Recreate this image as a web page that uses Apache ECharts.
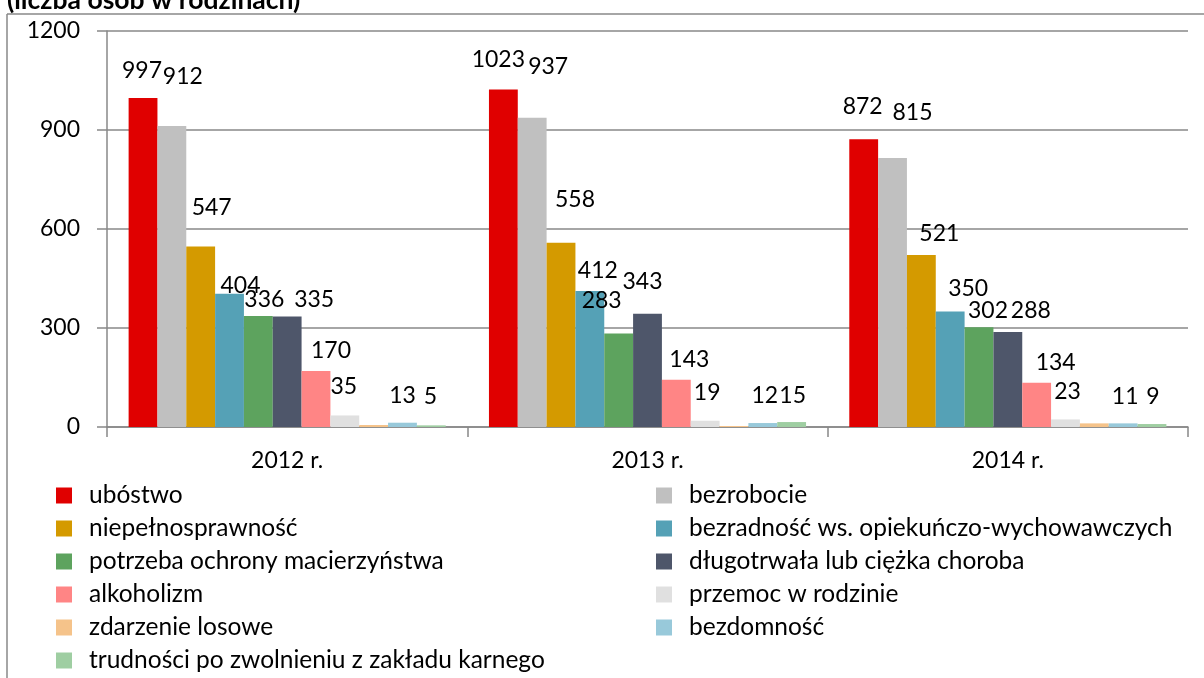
<!DOCTYPE html>
<html><head><meta charset="utf-8">
<script src="https://cdn.jsdelivr.net/npm/echarts@6/dist/echarts.min.js"></script>
<style>html,body{margin:0;padding:0;background:#fff}#c{width:1204px;height:678px}</style>
</head><body><div id="c"></div>
<script>
const categories = ['2012 r.', '2013 r.', '2014 r.'];
const seriesNames = ['ubóstwo','bezrobocie','niepełnosprawność','bezradność ws. opiekuńczo-wychowawczych','potrzeba ochrony macierzyństwa','długotrwała lub ciężka choroba','alkoholizm','przemoc w rodzinie','zdarzenie losowe','bezdomność','trudności po zwolnieniu z zakładu karnego'];
const ubostwo = [997, 1023, 872];
const bezrobocie = [912, 937, 815];
const niepelnosprawnosc = [547, 558, 521];
const bezradnosc = [404, 412, 350];
const macierzynstwo = [336, 283, 302];
const choroba = [335, 343, 288];
const alkoholizm = [170, 143, 134];
const przemoc = [35, 19, 23];
const zdarzenie = [6, 3, 11];
const bezdomnosc = [13, 12, 11];
const trudnosci = [5, 15, 9];
const yTicks = [0, 300, 600, 900, 1200];

// ---- styling ----
const values = [ubostwo,bezrobocie,niepelnosprawnosc,bezradnosc,macierzynstwo,choroba,alkoholizm,przemoc,zdarzenie,bezdomnosc,trudnosci];
const colors = ['#E00000','#C0C0C0','#D49A00','#55A1B6','#5DA35E','#4E566A','#FF8585','#E0E0E0','#F5C38A','#98C9DA','#9FCEA2'];
const showLabel = [true,true,true,true,true,true,true,true,false,true,true];
// manual label nudges (px) per series, per category, like the hand-placed labels of the original
const labelNudge = [
  [[-1,-16],[-5,-18],[-1,-21]],
  [[11,-38],[16,-40],[20,-34]],
  [[11,-27],[14,-32],[18,-10]],
  [[11,3],[8,-9],[18,-11]],
  [[6,-5],[-17,-22],[9,-5]],
  [[27,-5],[-5,-21],[23,-10]],
  [[15,-9],[13,-9],[19,-9]],
  [[-1,-17],[2,-17],[2,-16]],
  [[0,0],[0,0],[0,0]],
  [[0,-16],[2,-16],[2,-15]],
  [[-1,-17],[1,-15],[1,-16]]
];
const FONT = 'Lato, "Open Sans", sans-serif';

const chart = echarts.init(document.getElementById('c'));
const series = seriesNames.map((n,i)=>({
  name: n, type: 'bar', barGap: '0%', barCategoryGap: '12%',
  data: values[i].map((v,j)=>({value: v, label: {offset: labelNudge[i][j]}})),
  itemStyle: {color: colors[i]},
  label: {show: showLabel[i], position: 'top', distance: 0, color: '#000', fontSize: 23, fontFamily: FONT},
  emphasis: {disabled: true}
}));
const leftNames = seriesNames.filter((n,i)=>i%2===0);
const rightNames = seriesNames.filter((n,i)=>i%2===1);
const legendCommon = {orient:'vertical', top: 483, itemWidth: 16, itemHeight: 16, itemGap: 8, icon: 'rect', padding: 0,
  textStyle:{fontSize: 24.5, lineHeight: 24, fontFamily: FONT, color:'#000', padding:[0,0,0,12]}};
chart.setOption({
  animation: false,
  title: {text: '(liczba osób w rodzinach)', left: 7, top: -13, padding: 0,
    textStyle:{fontSize: 26.5, fontWeight:'bold', fontFamily: FONT, color:'#000'}},
  grid: {left: 107, right: 16, top: 31, bottom: 251, containLabel: false},
  legend: [
    Object.assign({left: 56, data: leftNames}, legendCommon),
    Object.assign({left: 656, data: rightNames}, legendCommon)
  ],
  xAxis: {type:'category', data: categories,
    axisLine:{lineStyle:{color:'#888', width:1.5}},
    axisTick:{show:true, length:10, alignWithLabel:false, lineStyle:{color:'#888', width:1.5}},
    axisLabel:{fontSize:23, fontFamily: FONT, color:'#000', margin: 22}},
  yAxis: {type:'value', min: yTicks[0], max: yTicks[yTicks.length-1], interval: 300,
    axisLine:{show:true, lineStyle:{color:'#888', width:1.5}},
    axisTick:{show:true, length:10, lineStyle:{color:'#888', width:1.5}},
    splitLine:{lineStyle:{color:'#888', width:1.5}},
    axisLabel:{fontSize:23, fontFamily: FONT, color:'#000', margin: 27, formatter: v => String(v)}},
  graphic: [
    {type:'line', shape:{x1:7,y1:14,x2:7,y2:678}, style:{stroke:'#888', lineWidth:1.5}},
    {type:'line', shape:{x1:7,y1:14,x2:1204,y2:14}, style:{stroke:'#888', lineWidth:1.5}}
  ],
  series: series
});
</script></body></html>
